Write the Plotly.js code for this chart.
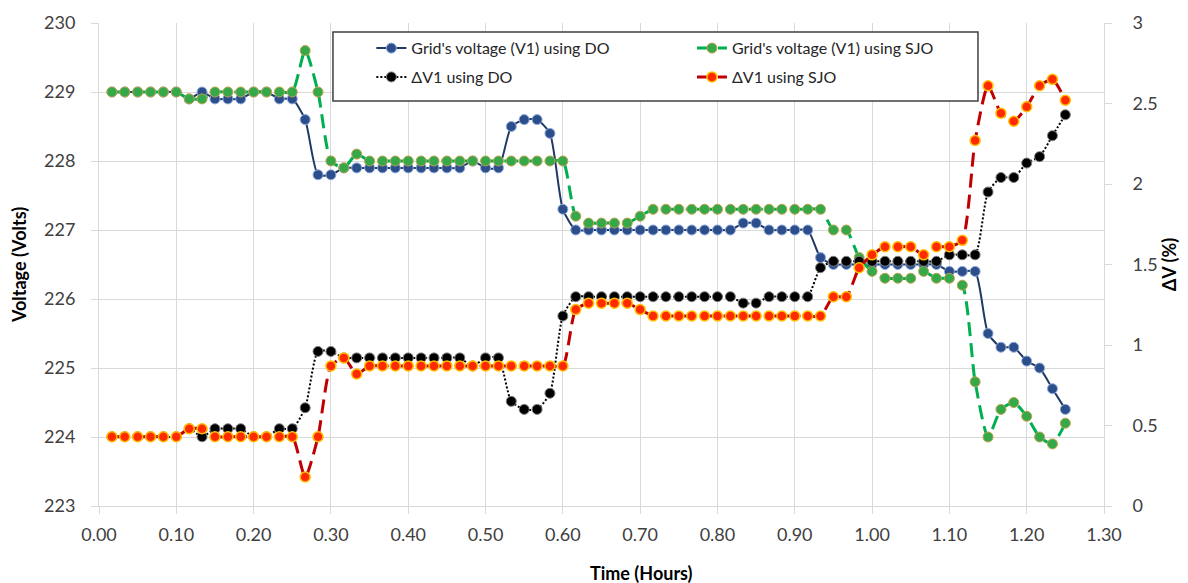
<!DOCTYPE html>
<html>
<head>
<meta charset="utf-8">
<script src="https://cdn.plot.ly/plotly-3.0.1.min.js"></script>
<style>
  html, body { margin: 0; padding: 0; background: #ffffff; }
  #chart { width: 1188px; height: 583px; }
</style>
</head>
<body>
<div id="chart"></div>
<script>
// Sample times, one reading per minute (hours)
const timeHours = [
  0.0167, 0.0333, 0.05, 0.0667, 0.0833, 0.1, 0.1167, 0.1333, 0.15, 0.1667,
  0.1833, 0.2, 0.2167, 0.2333, 0.25, 0.2667, 0.2833, 0.3, 0.3167, 0.3333,
  0.35, 0.3667, 0.3833, 0.4, 0.4167, 0.4333, 0.45, 0.4667, 0.4833, 0.5,
  0.5167, 0.5333, 0.55, 0.5667, 0.5833, 0.6, 0.6167, 0.6333, 0.65, 0.6667,
  0.6833, 0.7, 0.7167, 0.7333, 0.75, 0.7667, 0.7833, 0.8, 0.8167, 0.8333,
  0.85, 0.8667, 0.8833, 0.9, 0.9167, 0.9333, 0.95, 0.9667, 0.9833, 1.0,
  1.0167, 1.0333, 1.05, 1.0667, 1.0833, 1.1, 1.1167, 1.1333, 1.15, 1.1667,
  1.1833, 1.2, 1.2167, 1.2333, 1.25
];

// Grid's voltage V1 (Volts) with the DO method
const voltageDO = [
  229, 229, 229, 229, 229, 229, 228.9, 229, 228.9, 228.9,
  228.9, 229, 229, 228.9, 228.9, 228.6, 227.8, 227.8, 227.9, 227.9,
  227.9, 227.9, 227.9, 227.9, 227.9, 227.9, 227.9, 227.9, 228.0, 227.9,
  227.9, 228.5, 228.6, 228.6, 228.4, 227.3, 227.0, 227.0, 227.0, 227.0,
  227.0, 227.0, 227.0, 227.0, 227.0, 227.0, 227.0, 227.0, 227.0, 227.1,
  227.1, 227.0, 227.0, 227.0, 227.0, 226.6, 226.5, 226.5, 226.5, 226.5,
  226.5, 226.5, 226.5, 226.5, 226.5, 226.4, 226.4, 226.4, 225.5, 225.3,
  225.3, 225.1, 225.0, 224.7, 224.4
];

// Grid's voltage V1 (Volts) with the SJO method
const voltageSJO = [
  229, 229, 229, 229, 229, 229, 228.9, 228.9, 229, 229,
  229, 229, 229, 229, 229, 229.6, 229.0, 228.0, 227.9, 228.1,
  228.0, 228.0, 228.0, 228.0, 228.0, 228.0, 228.0, 228.0, 228.0, 228.0,
  228.0, 228.0, 228.0, 228.0, 228.0, 228.0, 227.2, 227.1, 227.1, 227.1,
  227.1, 227.2, 227.3, 227.3, 227.3, 227.3, 227.3, 227.3, 227.3, 227.3,
  227.3, 227.3, 227.3, 227.3, 227.3, 227.3, 227.0, 227.0, 226.6, 226.4,
  226.3, 226.3, 226.3, 226.4, 226.3, 226.3, 226.2, 224.8, 224.0, 224.4,
  224.5, 224.3, 224.0, 223.9, 224.2
];

// Voltage deviation ΔV1 (%) with the DO method
const deltaDO = [
  0.43, 0.43, 0.43, 0.43, 0.43, 0.43, 0.48, 0.43, 0.48, 0.48,
  0.48, 0.43, 0.43, 0.48, 0.48, 0.61, 0.96, 0.96, 0.92, 0.92,
  0.92, 0.92, 0.92, 0.92, 0.92, 0.92, 0.92, 0.92, 0.87, 0.92,
  0.92, 0.65, 0.60, 0.60, 0.70, 1.18, 1.30, 1.30, 1.30, 1.30,
  1.30, 1.30, 1.30, 1.30, 1.30, 1.30, 1.30, 1.30, 1.30, 1.26,
  1.26, 1.30, 1.30, 1.30, 1.30, 1.48, 1.52, 1.52, 1.52, 1.52,
  1.52, 1.52, 1.52, 1.52, 1.52, 1.56, 1.56, 1.56, 1.95, 2.04,
  2.04, 2.13, 2.17, 2.30, 2.43
];

// Voltage deviation ΔV1 (%) with the SJO method
const deltaSJO = [
  0.43, 0.43, 0.43, 0.43, 0.43, 0.43, 0.48, 0.48, 0.43, 0.43,
  0.43, 0.43, 0.43, 0.43, 0.43, 0.18, 0.43, 0.87, 0.92, 0.82,
  0.87, 0.87, 0.87, 0.87, 0.87, 0.87, 0.87, 0.87, 0.87, 0.87,
  0.87, 0.87, 0.87, 0.87, 0.87, 0.87, 1.22, 1.26, 1.26, 1.26,
  1.26, 1.22, 1.18, 1.18, 1.18, 1.18, 1.18, 1.18, 1.18, 1.18,
  1.18, 1.18, 1.18, 1.18, 1.18, 1.18, 1.30, 1.30, 1.48, 1.56,
  1.61, 1.61, 1.61, 1.56, 1.61, 1.61, 1.65, 2.27, 2.61, 2.44,
  2.39, 2.48, 2.61, 2.65, 2.52
];

const seriesNames = [
  "Grid's voltage (V1) using DO",
  "Grid's voltage (V1) using SJO",
  "\u0394V1 using DO",
  "\u0394V1 using SJO"
];

const FONT = 'Lato, "Open Sans", "Liberation Sans", sans-serif';
const GRID = '#d9d9d9';
const TITLE_FONT = { family: FONT, size: 18, color: '#000000', weight: 'bold' };

const traces = [
  {
    x: timeHours, y: voltageDO, name: seriesNames[0],
    type: 'scatter', mode: 'lines+markers', yaxis: 'y',
    legend: 'legend', legendgroup: 'g1',
    line: { color: '#1f3864', width: 2, shape: 'spline', smoothing: 0.6 },
    marker: { size: 10, color: '#2c4f8c', line: { color: '#8faadc', width: 1 } }
  },
  {
    x: timeHours, y: voltageSJO, name: seriesNames[1],
    type: 'scatter', mode: 'lines+markers', yaxis: 'y',
    legend: 'legend2', legendgroup: 'g2',
    line: { color: '#00b050', width: 3, dash: '14px,7px', shape: 'spline', smoothing: 0.6 },
    marker: { size: 10, color: '#35a84a', line: { color: '#c2a24a', width: 1 } }
  },
  {
    x: timeHours, y: deltaDO, name: seriesNames[2],
    type: 'scatter', mode: 'lines+markers', yaxis: 'y2',
    legend: 'legend', legendgroup: 'g3',
    line: { color: '#000000', width: 2, dash: '2px,2px', shape: 'spline', smoothing: 0.6 },
    marker: { size: 10, color: '#000000', line: { color: '#808080', width: 1 } }
  },
  {
    x: timeHours, y: deltaSJO, name: seriesNames[3],
    type: 'scatter', mode: 'lines+markers', yaxis: 'y2',
    legend: 'legend2', legendgroup: 'g4',
    line: { color: '#c00000', width: 3, dash: '14px,7px', shape: 'spline', smoothing: 0.6 },
    marker: { size: 10, color: '#ff2a00', line: { color: '#ffc000', width: 1.5 } }
  }
];

const legendCommon = {
  orientation: 'v',
  bgcolor: 'rgba(0,0,0,0)',
  borderwidth: 0,
  font: { family: FONT, size: 16, color: '#262626' },
  tracegroupgap: 5,
  xanchor: 'left',
  yanchor: 'top',
  y: 0.983
};

const layout = {
  width: 1188,
  height: 583,
  margin: { l: 99, r: 84, t: 23, b: 77 },
  paper_bgcolor: '#ffffff',
  plot_bgcolor: '#ffffff',
  font: { family: FONT, size: 18, color: '#404040' },
  showlegend: true,
  legend: Object.assign({}, legendCommon, { x: 0.271 }),
  legend2: Object.assign({}, legendCommon, { x: 0.590 }),
  xaxis: {
    range: [0, 1.3],
    tick0: 0, dtick: 0.1,
    tickformat: '.2f',
    showgrid: true, gridcolor: GRID, gridwidth: 1,
    zeroline: false,
    showline: true, linecolor: GRID, linewidth: 1,
    ticks: 'outside', ticklen: 7, tickcolor: GRID,
    ticklabelstandoff: 5,
    tickfont: { family: FONT, size: 18, color: '#404040' }
  },
  yaxis: {
    range: [223, 230],
    dtick: 1,
    showgrid: true, gridcolor: GRID, gridwidth: 1,
    zeroline: false,
    showline: true, linecolor: GRID, linewidth: 1,
    ticks: 'outside', ticklen: 7, tickcolor: GRID,
    ticklabelstandoff: 12,
    tickfont: { family: FONT, size: 18, color: '#404040' },
    title: { text: 'Voltage (Volts)', font: TITLE_FONT, standoff: 12 }
  },
  yaxis2: {
    range: [0, 3],
    dtick: 0.5,
    overlaying: 'y',
    side: 'right',
    showgrid: false,
    zeroline: false,
    showline: true, linecolor: GRID, linewidth: 1,
    ticks: 'outside', ticklen: 7, tickcolor: GRID,
    ticklabelstandoff: 17,
    tickfont: { family: FONT, size: 18, color: '#404040' },
    title: { text: '\u0394V (%)', font: TITLE_FONT, standoff: 2 }
  },
  annotations: [
    {
      text: 'Time (Hours)', xref: 'paper', yref: 'paper',
      x: 0.540, y: -0.139, xanchor: 'center', yanchor: 'middle',
      showarrow: false, font: TITLE_FONT
    }
  ],
  shapes: [
    {
      type: 'rect', xref: 'paper', yref: 'paper', layer: 'above',
      x0: 0.2328, x1: 0.8746, y0: 0.8385, y1: 0.9814,
      line: { color: '#404040', width: 1.5 },
      fillcolor: '#ffffff'
    }
  ]
};

Plotly.newPlot('chart', traces, layout, { displayModeBar: false, staticPlot: true });
</script>
</body>
</html>
